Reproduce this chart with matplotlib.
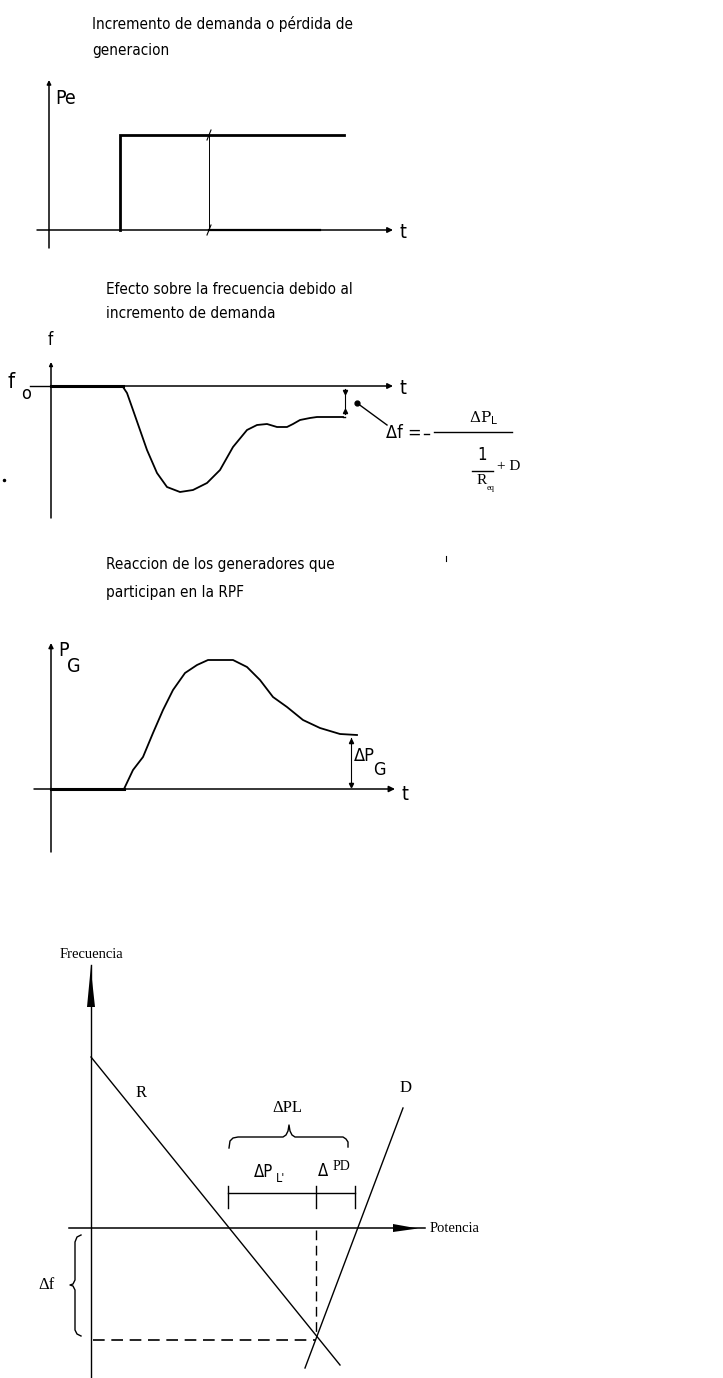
import matplotlib
matplotlib.use('Agg')
import matplotlib.pyplot as plt
from matplotlib import font_manager
import numpy as np

# --- datos (coordenadas de la hoja, en pixeles) ---
# 1) escalon de demanda
step_x = [120, 120, 344]
step_y = [230, 135, 135]

# 2) frecuencia
freq_x = [51, 123, 127, 133, 140, 147, 157, 167, 180, 193, 207, 220, 233, 247,
          257, 267, 277, 287, 293, 300, 310, 317, 330, 343]
freq_y = [386, 387, 393, 410, 430, 450, 473, 487, 492, 490, 483, 470, 447, 430,
          425, 424, 427, 427, 424, 420, 418, 417, 417, 417]

# 3) potencia generada
pg_x = [51, 124, 133, 143, 153, 163, 173, 185, 197, 208, 233, 247, 260, 273,
        287, 303, 320, 340, 357]
pg_y = [789, 789, 770, 757, 733, 710, 690, 673, 665, 660, 660, 667, 680, 697,
        707, 720, 728, 734, 735]

# 4) caracteristicas R y D
r_x = [91, 340]
r_y = [1057, 1365]
d_x = [403, 305]
d_y = [1108, 1368]
x_cross = 316
y_cross = 1336

# fuente estrecha si hay alguna instalada
narrow = None
for f in font_manager.fontManager.ttflist:
    if f.stretch in ('condensed', 'semi-condensed', 'extra-condensed') or \
            'Narrow' in f.name or 'Condensed' in f.name:
        if 'Bold' not in f.fname and 'Italic' not in f.fname:
            narrow = f
            break
if narrow is not None:
    fam_t = [narrow.name, 'DejaVu Sans']
    st = narrow.stretch
    fs_title = 11
else:
    fam_t = ['Liberation Sans', 'DejaVu Sans']
    st = 'normal'
    fs_title = 10
fam_s = ['Liberation Serif', 'DejaVu Serif']

fig = plt.figure(figsize=(7.23, 13.78), dpi=100)
ax = fig.add_axes([0, 0, 1, 1])
ax.set_xlim(0, 723)
ax.set_ylim(1378, 0)
ax.axis('off')


def txt(x, y, s, size, fam=None, **kw):
    if fam is None:
        ax.text(x, y, s, fontsize=size, family=fam_t, fontstretch=st,
                va='center', **kw)
    else:
        ax.text(x, y, s, fontsize=size, family=fam, va='center', **kw)


def arrow(x0, y0, x1, y1, lw=1.1, style='-|>', ms=8):
    ax.annotate('', xy=(x1, y1), xytext=(x0, y0),
                arrowprops=dict(arrowstyle=style, lw=lw, color='k',
                                mutation_scale=ms, shrinkA=0, shrinkB=0))


# ---------- panel 1 ----------
txt(92, 24, 'Incremento de demanda o pérdida de', fs_title)
txt(92, 50, 'generacion', fs_title)
arrow(49, 248, 49, 80, ms=6)
arrow(37, 230, 393, 230, ms=8)
txt(399, 232, 't', 14)
txt(55, 98, 'Pe', 14)
ax.plot(step_x, step_y, color='k', lw=2.0, solid_joinstyle='miter')
ax.plot([209, 320], [230, 230], color='k', lw=1.6)
ax.plot([209, 209], [135, 230], color='k', lw=0.7)
for yy in (135, 230):
    ax.plot([207, 211], [yy + 5, yy - 5], color='k', lw=0.8)

# ---------- panel 2 ----------
txt(106, 290, 'Efecto sobre la frecuencia debido al', fs_title)
txt(106, 313, 'incremento de demanda', fs_title)
arrow(51, 518, 51, 362, ms=5)
ax.plot([30, 51], [386, 386], color='k', lw=1.0)
arrow(51, 386, 393, 386, ms=8)
txt(399, 388, 't', 14)
txt(48, 340, 'f', 12)
txt(8, 382, 'f', 16)
txt(21, 394, 'o', 13)
ax.plot(freq_x, freq_y, color='k', lw=1.3)
ax.plot([51, 123], [386, 386], color='k', lw=2.2)
ax.plot([343, 345], [417, 417], color='k', lw=1.0)
ax.plot([345, 345], [389, 414], color='k', lw=0.8)
ax.plot([345], [392], marker='v', color='k', ms=3)
ax.plot([345], [411], marker='^', color='k', ms=3)
ax.plot([357, 387], [403, 425], color='k', lw=1.0)
ax.plot([357], [403], marker='o', color='k', ms=3.5)
ax.plot([4], [480], marker='o', color='k', ms=1.5)
txt(386, 433, 'Δf =', 13)
ax.plot([424, 429], [434, 434], color='k', lw=1.0)
ax.plot([434, 512], [432, 432], color='k', lw=1.0)
txt(469, 418, r'ΔP$_{\rm L}$', 11, fam=['DejaVu Serif'])
txt(477, 455, '1', 12)
ax.plot([472, 493], [471, 471], color='k', lw=1.0)
txt(477, 480, 'R', 11, fam=fam_s)
txt(487, 488, 'eq', 6, fam=fam_s)
txt(497, 466, '+ D', 11, fam=fam_s)

# ---------- panel 3 ----------
txt(106, 565, 'Reaccion de los generadores que', fs_title)
txt(106, 592, 'participan en la RPF', fs_title)
ax.plot([446, 446], [556, 561], color='k', lw=0.8)
arrow(51, 852, 51, 643, ms=7)
arrow(34, 789, 395, 789, ms=9)
txt(402, 794, 't', 14)
txt(58, 650, 'P', 14)
txt(67, 666, 'G', 14)
ax.plot(pg_x, pg_y, color='k', lw=1.3)
ax.plot([51, 124], [789, 789], color='k', lw=2.2)
ax.plot([351, 351], [738, 786], color='k', lw=0.8)
ax.plot([351], [741], marker='^', color='k', ms=3)
ax.plot([351], [785], marker='v', color='k', ms=3)
txt(354, 756, 'ΔP', 13)
txt(373, 770, 'G', 13)

# ---------- panel 4 ----------
txt(60, 955, 'Frecuencia', 10.5, fam=fam_s)
ax.plot([91, 91], [965, 1378], color='k', lw=1.0)
ax.fill([87, 95, 91.5, 91], [1007, 1007, 975, 965], color='k', lw=0)
ax.plot([69, 425], [1228, 1228], color='k', lw=1.1)
ax.fill([393, 393, 418], [1224, 1232, 1228.5], color='k', lw=0)
txt(430, 1229, 'Potencia', 10.5, fam=fam_s)

ax.plot(r_x, r_y, color='k', lw=1.0)
ax.plot(d_x, d_y, color='k', lw=1.0)
txt(136, 1093, 'R', 12, fam=fam_s)
txt(400, 1088, 'D', 12, fam=fam_s)

ax.plot([x_cross, x_cross], [1230, y_cross], color='k', lw=1.0,
        dashes=(7, 4))
ax.plot([93, x_cross], [1340, 1340], color='k', lw=1.2, dashes=(7, 4))

txt(272, 1108, 'ΔPL', 12, fam=fam_s)
brace_x = [229, 230, 233, 238, 283, 286, 288, 289, 290, 292, 295, 343, 346,
           348, 348]
brace_y = [1148, 1141, 1138, 1137, 1137, 1135, 1131, 1125, 1131, 1135, 1137,
           1137, 1139, 1142, 1147]
ax.plot(brace_x, brace_y, color='k', lw=1.0)

txt(254, 1172, 'ΔP', 12)
txt(276, 1178, "L'", 9)
txt(318, 1171, 'Δ', 12)
txt(333, 1166, 'PD', 10, fam=fam_s)
ax.plot([228, 355], [1193, 1193], color='k', lw=1.0)
for xx in (228, x_cross, 355):
    ax.plot([xx, xx], [1186, 1208], color='k', lw=1.0)

txt(38, 1285, 'Δf', 12, fam=fam_s)
lb_x = [81, 77, 75, 75, 73, 70, 73, 75, 75, 77, 81]
lb_y = [1235, 1237, 1242, 1280, 1284, 1285, 1286, 1290, 1330, 1334, 1336]
ax.plot(lb_x, lb_y, color='k', lw=1.0)

fig.savefig('out.png', dpi=100)
